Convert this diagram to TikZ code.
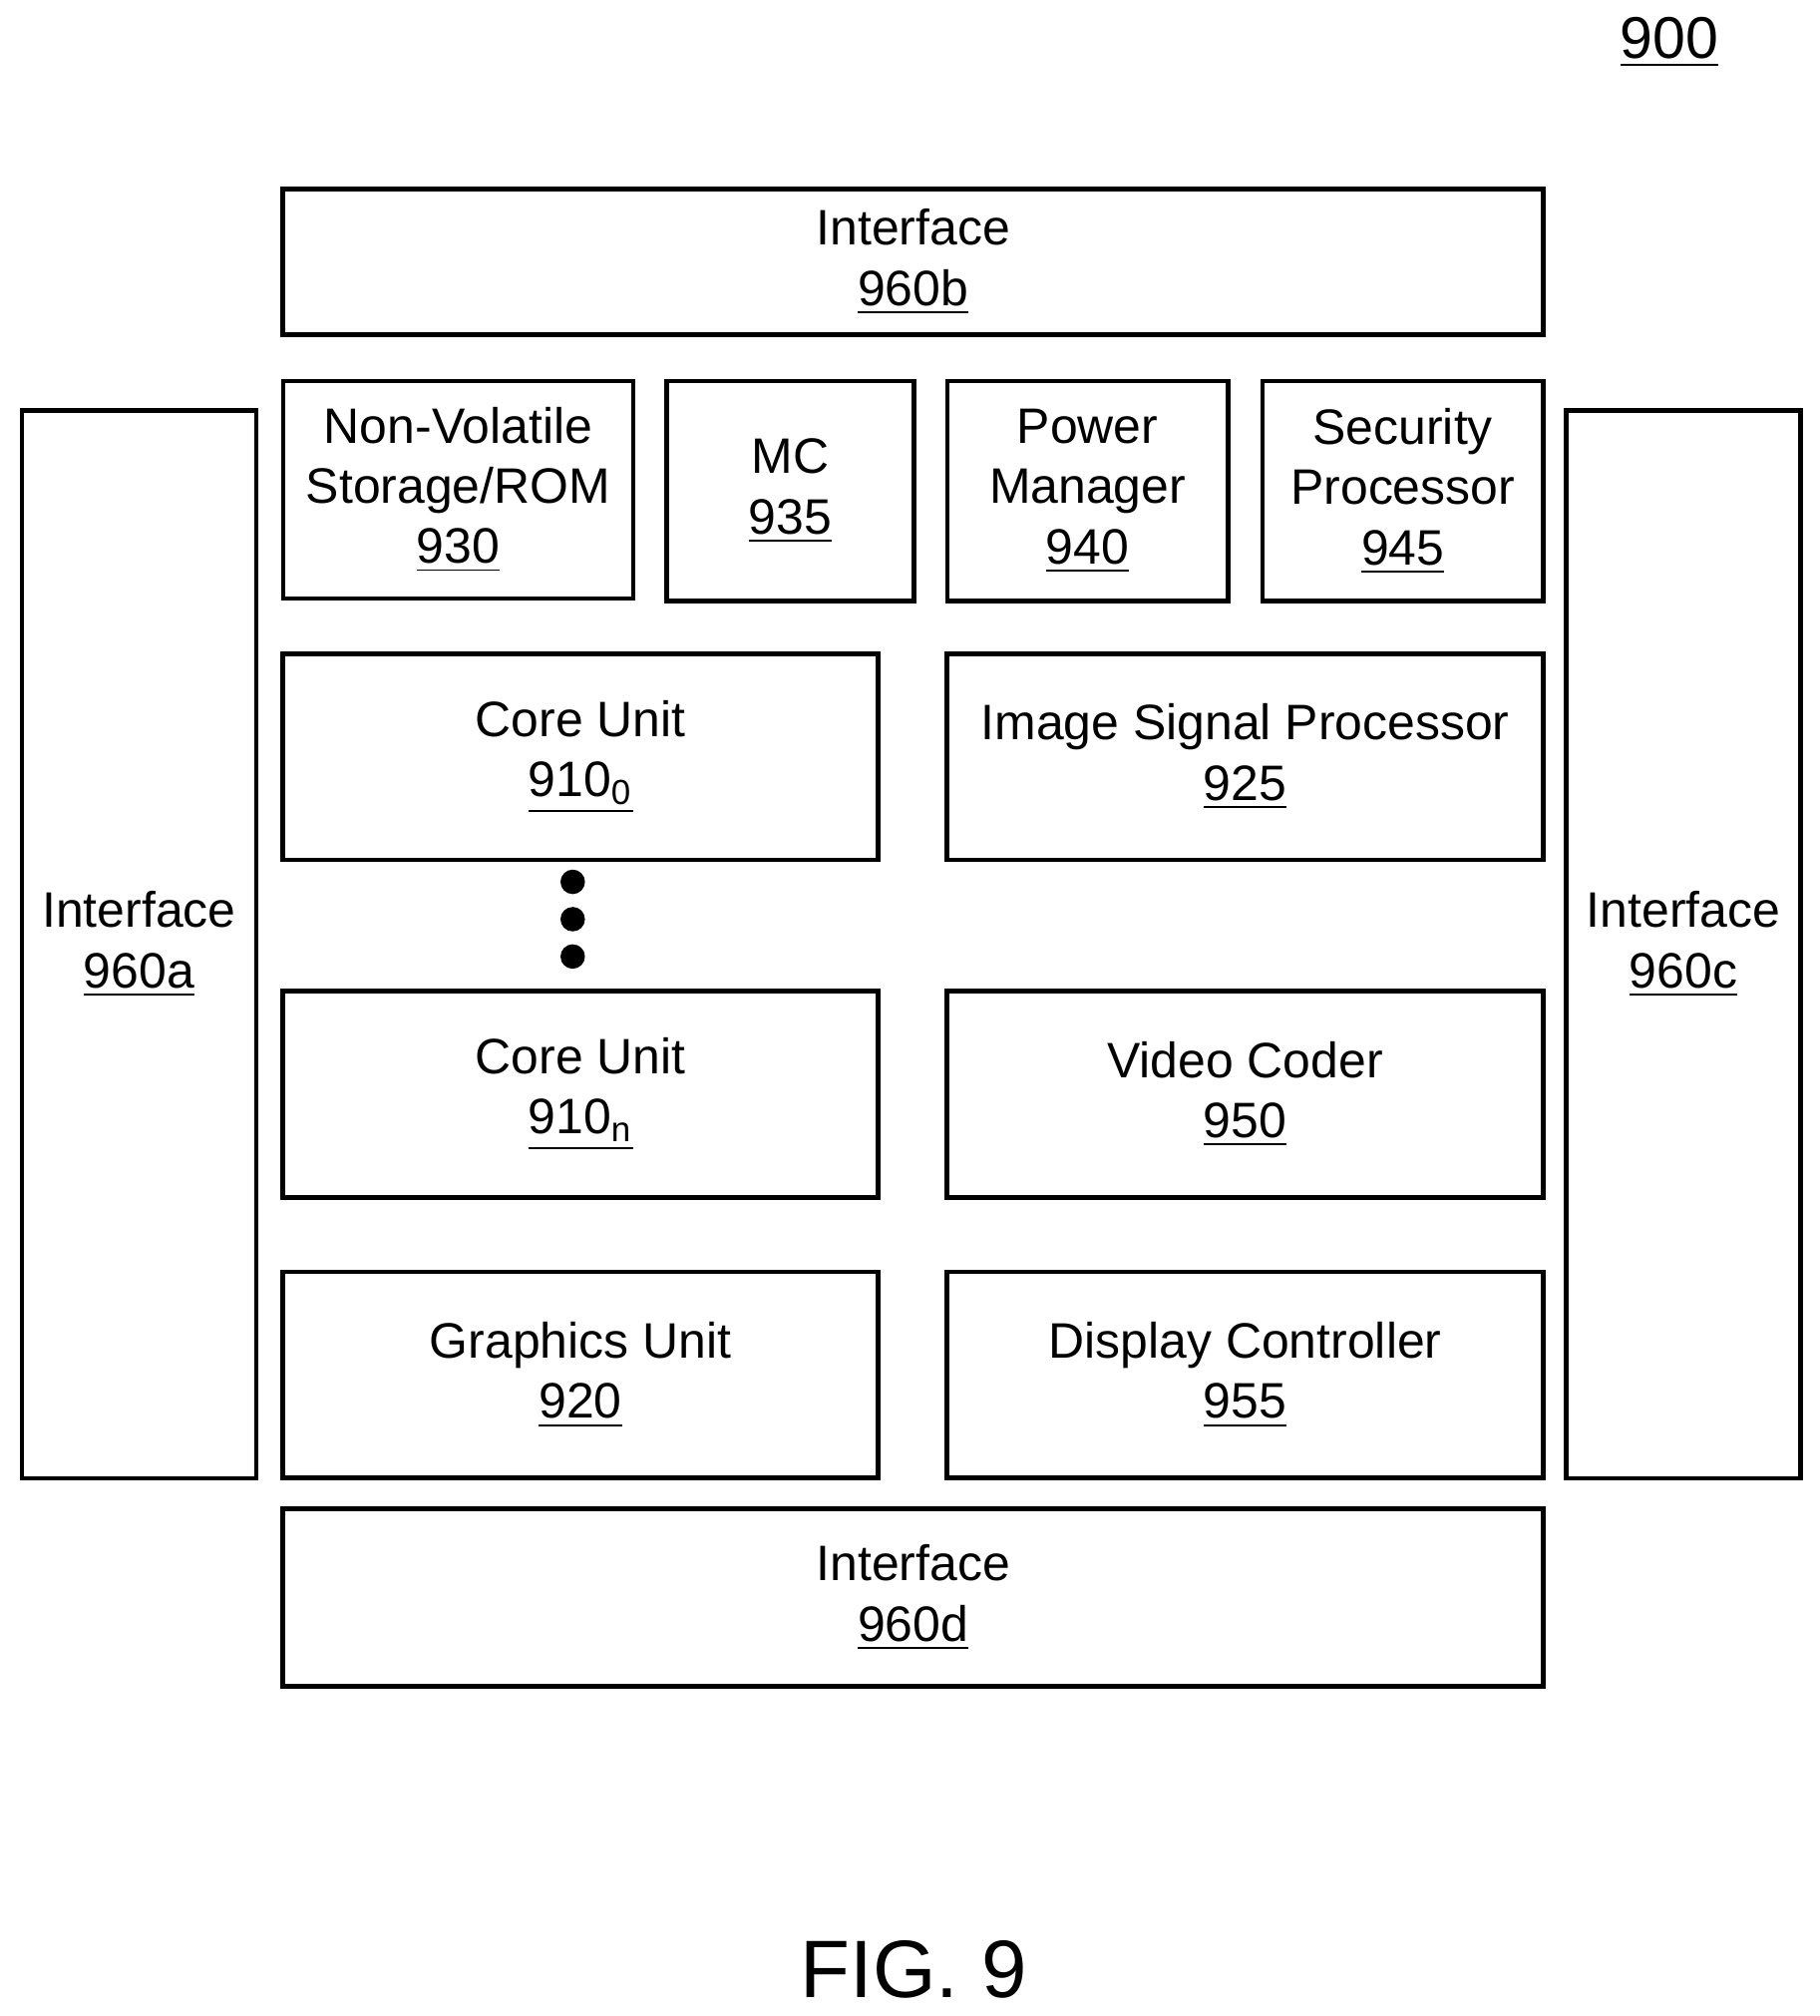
\documentclass[tikz,border=0pt]{standalone}
\usepackage{fontspec}
\setmainfont{Liberation Sans}
\usetikzlibrary{positioning}
\tikzset{
  blk/.style={draw, line width=1pt, align=center, inner sep=0pt,
    font=\fontsize{11}{13.3}\selectfont},
  dot/.style={fill, circle, inner sep=0pt, minimum size=0.19cm}
}
\begin{document}
\begin{tikzpicture}[x=0.01cm,y=-0.01cm]
\useasboundingbox (0,0) rectangle (1414,1566);

\node[blk, minimum width=9.79cm, minimum height=1.13cm] (if_b) at (709.5,203.5) {Interface\\\underline{960b}};
\node[blk, minimum width=2.72cm, minimum height=1.69cm] (nvs) at (356,380.5) {Non-Volatile\\Storage/ROM\\\underline{930}};
\node[blk, minimum width=1.92cm, minimum height=1.71cm] (mc) at (614,381.5) {MC\\\underline{935}};
\node[blk, minimum width=2.18cm, minimum height=1.71cm] (pwr) at (845,381.5) {Power\\Manager\\\underline{940}};
\node[blk, minimum width=2.18cm, minimum height=1.71cm] (sec) at (1090,381.5) {Security\\Processor\\\underline{945}};
\node[blk, minimum width=4.62cm, minimum height=1.6cm] (core0) at (451,588) {Core Unit\\\underline{910\textsubscript{0}}};
\node[blk, minimum width=4.63cm, minimum height=1.6cm] (isp) at (967.5,588) {Image Signal Processor\\\underline{925}};
\node[blk, minimum width=4.62cm, minimum height=1.6cm] (coren) at (451,850) {Core Unit\\\underline{910\textsubscript{n}}};
\node[blk, minimum width=4.63cm, minimum height=1.6cm] (vid) at (967.5,850) {Video Coder\\\underline{950}};
\node[blk, minimum width=4.62cm, minimum height=1.6cm] (gfx) at (451,1068) {Graphics Unit\\\underline{920}};
\node[blk, minimum width=4.63cm, minimum height=1.6cm] (disp) at (967.5,1068) {Display Controller\\\underline{955}};
\node[blk, minimum width=9.79cm, minimum height=1.38cm] (if_d) at (709.5,1241) {Interface\\\underline{960d}};
\node[blk, minimum width=1.82cm, minimum height=8.29cm] (if_a) at (108,733.5) {Interface\\\underline{960a}};
\node[blk, minimum width=1.82cm, minimum height=8.29cm] (if_c) at (1308,733.5) {Interface\\\underline{960c}};

\foreach \y in {685,714,743}
  \node[dot] at (445,\y) {};

\node[font=\fontsize{13}{15}\selectfont] (ref) at (1297,33) {\underline{900}};
\node[font=\fontsize{18}{21}\selectfont] (fig) at (710,1530) {FIG. 9};
\end{tikzpicture}
\end{document}
